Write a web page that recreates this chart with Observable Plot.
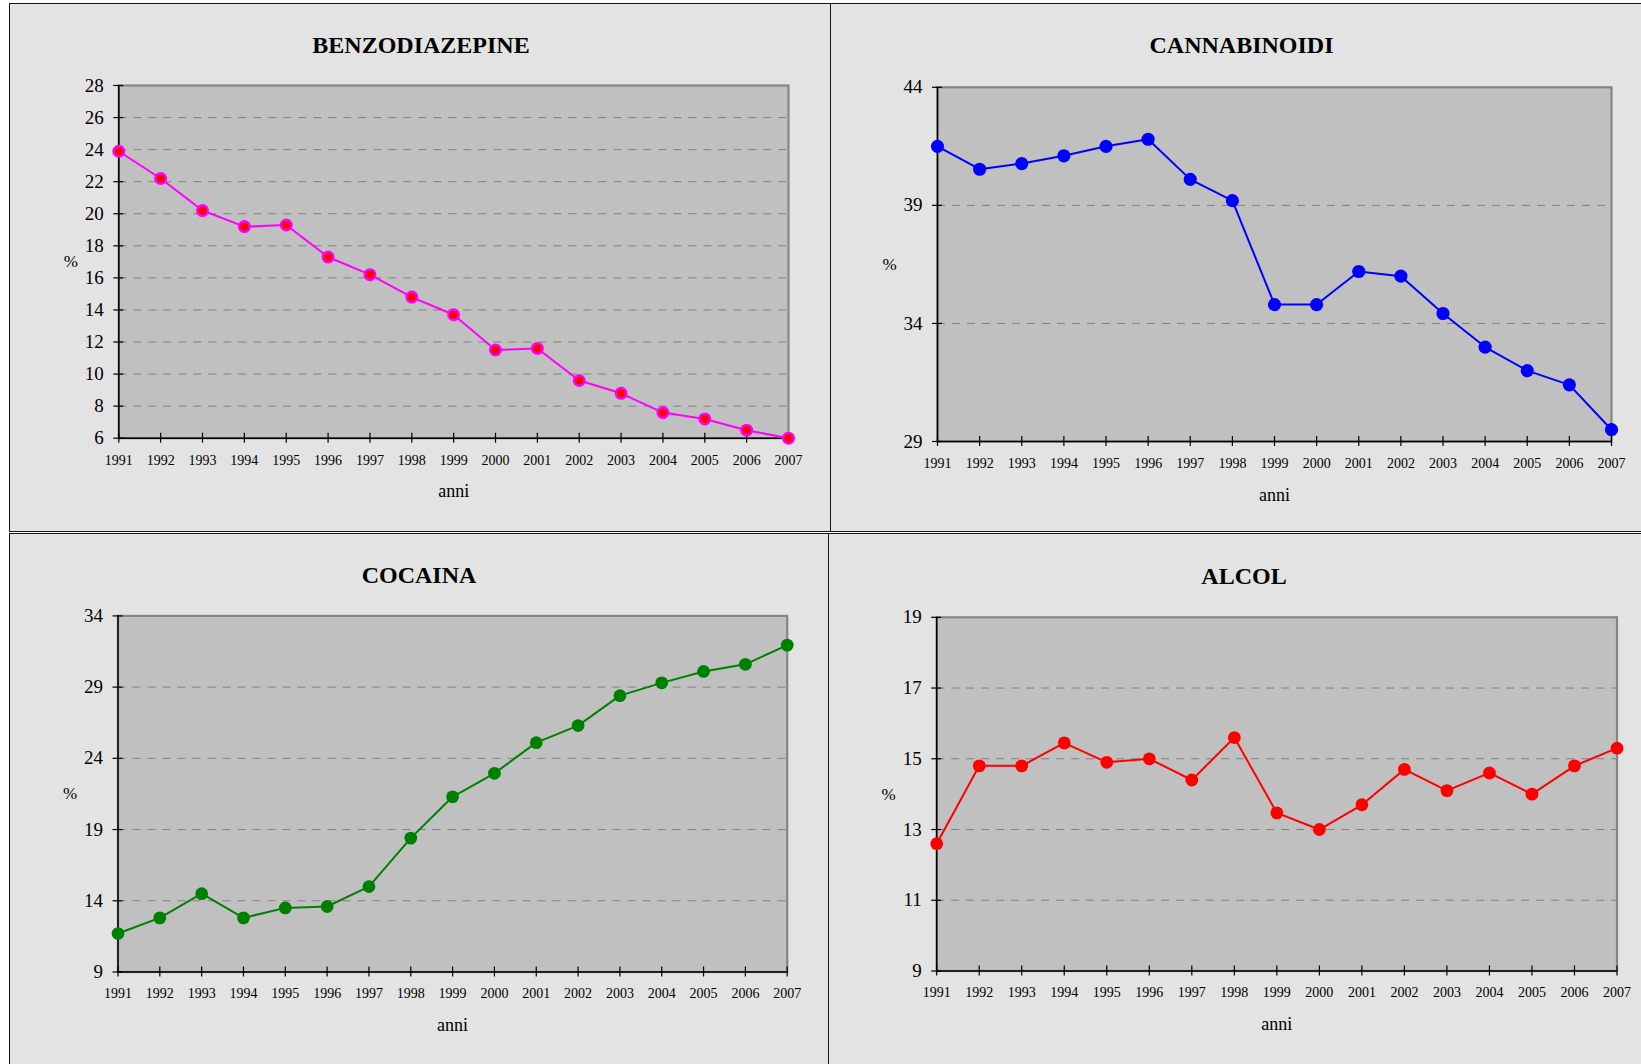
<!DOCTYPE html>
<html>
<head>
<meta charset="utf-8">
<script src="https://cdn.jsdelivr.net/npm/d3@7"></script>
<script src="https://cdn.jsdelivr.net/npm/@observablehq/plot@0.6"></script>
<style>
  html, body { margin: 0; padding: 0; }
  body { width: 1641px; height: 1064px; overflow: hidden; background: #ffffff; position: relative; font-family: "Liberation Serif", "Times New Roman", serif; }
  .panel { position: absolute; box-sizing: border-box; background: #e3e3e3; border: 1.5px solid #151515; }
  .title { position: absolute; width: 600px; text-align: center; font: bold 24px/24px "Liberation Serif", "Times New Roman", serif; color: #000; }
  svg.chart { position: absolute; }
</style>
</head>
<body>
<script>
// ---- data ----
const years = [1991, 1992, 1993, 1994, 1995, 1996, 1997, 1998, 1999, 2000, 2001, 2002, 2003, 2004, 2005, 2006, 2007];
const benzodiazepine = [23.9, 22.2, 20.2, 19.2, 19.3, 17.3, 16.2, 14.8, 13.7, 11.5, 11.6, 9.6, 8.8, 7.6, 7.2, 6.5, 6.0];
const cannabinoidi = [41.5, 40.53, 40.77, 41.1, 41.5, 41.8, 40.1, 39.2, 34.8, 34.8, 36.2, 36.0, 34.42, 33.0, 32.0, 31.4, 29.5];
const cocaina = [11.7, 12.8, 14.5, 12.8, 13.5, 13.6, 15.0, 18.4, 21.3, 22.95, 25.1, 26.3, 28.4, 29.3, 30.1, 30.6, 31.95];
const alcol = [12.6, 14.8, 14.8, 15.45, 14.9, 15.0, 14.4, 15.6, 13.47, 13.0, 13.7, 14.7, 14.1, 14.6, 14.0, 14.8, 15.3];

const benzoTicks = [6, 8, 10, 12, 14, 16, 18, 20, 22, 24, 26, 28];
const cannaTicks = [29, 34, 39, 44];
const cocaTicks = [9, 14, 19, 24, 29, 34];
const alcolTicks = [9, 11, 13, 15, 17, 19];

const titles = ["BENZODIAZEPINE", "CANNABINOIDI", "COCAINA", "ALCOL"];
const xLabel = "anni";
const yLabel = "%";

const serif = "'Liberation Serif', 'Times New Roman', serif";

// ---- layout (page pixels) ----
const panels = [
  {left: 9, top: 3, width: 822, height: 529},
  {left: 830, top: 3, width: 830, height: 529},
  {left: 9, top: 532.5, width: 820, height: 540},
  {left: 828, top: 532.5, width: 830, height: 540}
];
const titlePos = [
  {cx: 421, top: 32.6},
  {cx: 1241.5, top: 32.6},
  {cx: 419, top: 562.6},
  {cx: 1244, top: 563.9}
];
const charts = [
  {values: benzodiazepine, ticks: benzoTicks, color: "#ff00ff", fill: "#ff0000", stroke: "#ff00ff", r: 5.3, sw: 2.4,
   left: 11, top: 5, width: 818, height: 525, ml: 107.3, mr: 41, mt: 80, mb: 92.3},
  {values: cannabinoidi, ticks: cannaTicks, color: "#0000ff", fill: "#0000ff", stroke: "none", r: 6.6, sw: 0,
   left: 832, top: 5, width: 807, height: 525, ml: 105, mr: 28, mt: 81.8, mb: 89},
  {values: cocaina, ticks: cocaTicks, color: "#008000", fill: "#008000", stroke: "none", r: 6.4, sw: 0,
   left: 11, top: 535, width: 816, height: 527, ml: 106.5, mr: 40.3, mt: 80.4, mb: 90.5},
  {values: alcol, ticks: alcolTicks, color: "#ff0000", fill: "#ff0000", stroke: "none", r: 6.4, sw: 0,
   left: 831, top: 535, width: 808, height: 527, ml: 105.2, mr: 22.5, mt: 81.8, mb: 91.5}
];

panels.forEach(p => {
  const d = document.createElement("div");
  d.className = "panel";
  Object.assign(d.style, {left: p.left + "px", top: p.top + "px", width: p.width + "px", height: p.height + "px"});
  document.body.appendChild(d);
});

charts.forEach((c, k) => {
  const data = years.map((y, i) => ({year: y, value: c.values[i]}));
  const ymin = c.ticks[0];
  const ymax = c.ticks[c.ticks.length - 1];
  const x0 = years[0];
  const svg = Plot.plot({
    width: c.width,
    height: c.height,
    marginLeft: c.ml,
    marginRight: c.mr,
    marginTop: c.mt,
    marginBottom: c.mb,
    style: {background: "transparent", fontFamily: serif, color: "#000", overflow: "visible"},
    x: {domain: [years[0], years[years.length - 1]], axis: null},
    y: {domain: [ymin, ymax], axis: null},
    marks: [
      Plot.frame({fill: "#c0c0c0", stroke: "none"}),
      Plot.ruleY(c.ticks.slice(1, -1), {y: d => d, stroke: "#808080", strokeWidth: 1, strokeDasharray: "8,7"}),
      Plot.frame({stroke: "#858585", strokeWidth: 2.2, fill: "none"}),
      Plot.ruleX([x0], {x: d => d, stroke: "#000", strokeWidth: 1.5}),
      Plot.ruleY([ymin], {y: d => d, stroke: "#000", strokeWidth: 1.5}),
      Plot.ruleX(years, {x: d => d, y1: () => ymin, y2: () => ymin, insetTop: -5, insetBottom: -5, stroke: "#000", strokeWidth: 1.2}),
      Plot.ruleY(c.ticks, {y: d => d, x1: () => x0, x2: () => x0, insetLeft: -5, insetRight: -5, stroke: "#000", strokeWidth: 1.2}),
      Plot.text(years, {x: d => d, y: () => ymin, text: d => String(d), dy: 22, fontSize: 14, fontFamily: serif, fill: "#000"}),
      Plot.text(c.ticks, {x: () => x0, y: d => d, text: d => String(d), textAnchor: "end", dx: -15, fontSize: 19, fontFamily: serif, fill: "#000"}),
      Plot.text([xLabel], {frameAnchor: "bottom", textAnchor: "middle", dy: 59, fontSize: 18, fontFamily: serif, fill: "#000"}),
      Plot.text([yLabel], {frameAnchor: "left", textAnchor: "middle", dx: -48, fontSize: 17, fontFamily: serif, fill: "#000"}),
      Plot.line(data, {x: "year", y: "value", stroke: c.color, strokeWidth: 2}),
      Plot.dot(data, {x: "year", y: "value", r: c.r, fill: c.fill, stroke: c.stroke, strokeWidth: c.sw})
    ]
  });
  svg.classList.add("chart");
  svg.style.left = c.left + "px";
  svg.style.top = c.top + "px";
  document.body.appendChild(svg);

  const t = document.createElement("div");
  t.className = "title";
  t.textContent = titles[k];
  t.style.left = (titlePos[k].cx - 300) + "px";
  t.style.top = titlePos[k].top + "px";
  document.body.appendChild(t);
});
</script>
</body>
</html>
